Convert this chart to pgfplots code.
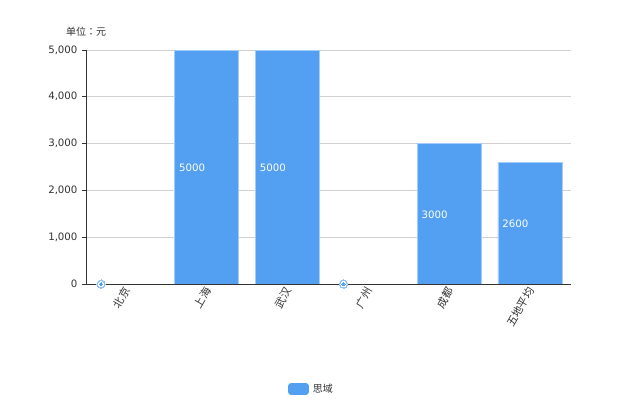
\documentclass[border=0pt]{standalone}
\usepackage{pgfplots}
\pgfplotsset{compat=1.18}
\usepackage{fontspec}
\setmainfont{DejaVu Sans}
\newfontfamily\cjk{Noto Sans CJK SC}
\newfontfamily\cjktc{Noto Sans CJK TC}
\definecolor{barblue}{HTML}{539FF1}
\definecolor{baredge}{HTML}{A6CDF8}
\definecolor{ringc}{HTML}{8FC1F7}
\definecolor{txt}{HTML}{333333}
\definecolor{gridc}{HTML}{D0D0D0}
\tikzset{barlab/.style={anchor=west,inner sep=0pt,text=white,font=\fontsize{10.2}{12}\selectfont}}
\begin{document}
\begin{tikzpicture}[x=1pt,y=1pt]
\path[use as bounding box,fill=white] (0,0) rectangle (620,413);
\begin{axis}[
  at={(86pt,129pt)},anchor=south west,
  width=485pt,height=234pt,scale only axis,
  xmin=-0.5,xmax=5.5,ymin=0,ymax=5000,
  axis lines=left,axis line style={-,txt,line width=0.9pt},
  x axis line style={draw=none},
  ytick={0,1000,2000,3000,4000,5000},
  xtick={0,1,2,3,4,5},
  xticklabels={北京,上海,武汉,广州,成都,五地平均},
  x tick label style={font=\cjk\fontsize{10.8}{12}\selectfont,text=txt,rotate=60,anchor=east,xshift=4pt,yshift=-0.5pt},
  y tick label style={font=\fontsize{10.2}{12}\selectfont,text=txt,xshift=-0.5pt},
  /pgf/number format/assume math mode=true,
  /pgf/number format/1000 sep={,},
  scaled y ticks=false,
  ymajorgrids,grid style={gridc,line width=0.8pt},
  x tick style={draw=none},
  y tick style={txt,line width=0.8pt},
  tick align=outside,major tick length=4.5pt,
  clip=false,
  legend style={at={(202pt,-105pt)},anchor=west,draw=none,fill=none,font=\cjk\fontsize{10}{12}\selectfont\color{txt},inner sep=0pt},
]
\addplot[ybar,bar width=64pt,bar shift=-0.6pt,fill=barblue,draw=baredge,line width=0.6pt,
  area legend,
  legend image code/.code={\fill[barblue,rounded corners=2.5pt] (0pt,-5.5pt) rectangle (20pt,5.5pt);\path (22pt,0pt);}]
  coordinates {(0,0)(1,5000)(2,5000)(3,0)(4,3000)(5,2600)};
\addlegendentry{思域}
\addplot[txt,line width=0.9pt,forget plot] coordinates {(-0.5,0)(5.5,0)};
\addplot[only marks,mark=*,mark size=4.2pt,line width=0pt,mark options={fill=ringc,draw=ringc},forget plot]
  coordinates {(-0.314,0)(2.686,0)};
\addplot[only marks,mark=*,mark size=2.7pt,line width=0pt,mark options={fill=white,draw=white},forget plot]
  coordinates {(-0.314,0)(2.686,0)};
\addplot[only marks,mark=*,mark size=1.7pt,line width=0pt,mark options={fill=barblue,draw=barblue},forget plot]
  coordinates {(-0.314,0)(2.686,0)};
\node[barlab] at (axis cs:0.65,2480) {5000};
\node[barlab] at (axis cs:1.65,2480) {5000};
\node[barlab] at (axis cs:3.65,1480) {3000};
\node[barlab] at (axis cs:4.65,1280) {2600};
\end{axis}
\node[anchor=west,inner sep=0pt,text=txt,font=\cjk\fontsize{10}{12}\selectfont] at (66,381) {单位{\cjktc ：}元};
\end{tikzpicture}
\end{document}
